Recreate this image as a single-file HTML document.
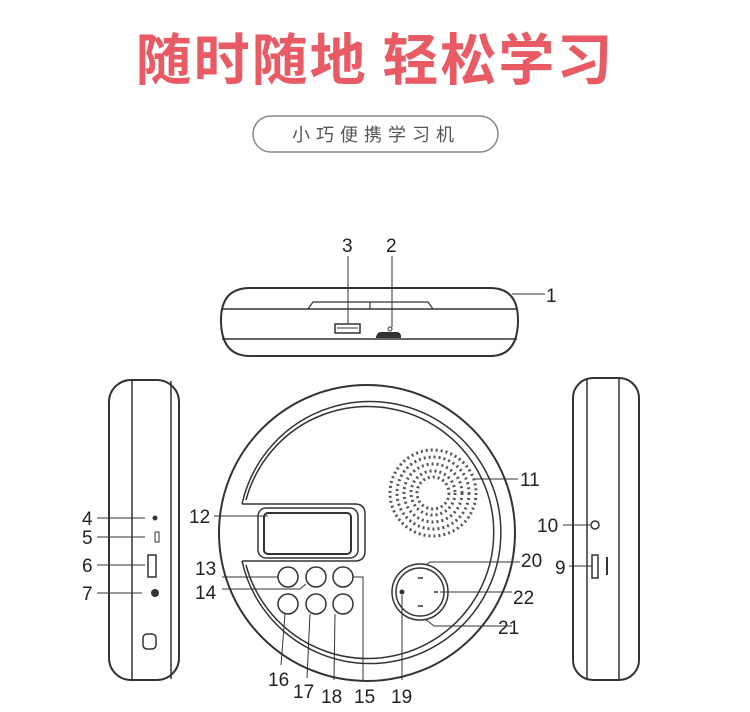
<!DOCTYPE html>
<html><head><meta charset="utf-8"><style>
html,body{margin:0;padding:0;background:#fff;}
svg{display:block}
</style></head><body>
<svg width="750" height="712" viewBox="0 0 750 712" xmlns="http://www.w3.org/2000/svg">
<rect width="750" height="712" fill="#fff"/>
<text x="375" y="80" text-anchor="middle" font-family="'Noto Sans CJK SC',sans-serif" font-weight="bold" font-size="56" fill="#e85a64" letter-spacing="2">随时随地 轻松学习</text>
<rect x="253" y="116" width="245" height="36" rx="18" fill="none" stroke="#888" stroke-width="1.5"/>
<text x="376" y="141" text-anchor="middle" font-family="'Noto Sans CJK SC',sans-serif" font-size="18" fill="#555" letter-spacing="6">小巧便携学习机</text>

<g fill="none" stroke="#333" stroke-width="2" font-family="'Liberation Sans',sans-serif">
<!-- top view -->
<path d="M250 288 H490 Q518 288 518 320 Q518 356 490 356 H250 Q221 356 221 320 Q221 288 250 288 Z"/>
<line x1="222" y1="309" x2="517" y2="309" stroke-width="1.5"/>
<line x1="222" y1="339" x2="517" y2="339" stroke-width="1.5"/>
<path d="M308 309 L313 302 H428 L433 309 M370 302 V309" stroke-width="1.2"/>
<rect x="335" y="324" width="25" height="9" stroke-width="1.5"/>
<line x1="337" y1="328" x2="358" y2="328" stroke-width="1"/>
<path d="M377 337 Q378 333 381 333 H397 Q400 333 400 337 Z" fill="#333"/>
<circle cx="390" cy="329" r="2" stroke-width="1"/>
<line x1="348" y1="256" x2="348" y2="324" stroke-width="1"/>
<line x1="392" y1="256" x2="392" y2="327" stroke-width="1"/>
<line x1="512" y1="294" x2="545" y2="294" stroke-width="1"/>

<!-- left side -->
<rect x="109" y="380" width="70" height="300" rx="22"/>
<line x1="132" y1="381" x2="132" y2="679" stroke-width="1.5"/>
<line x1="171" y1="381" x2="171" y2="679" stroke-width="1.5"/>
<rect x="143" y="634" width="13" height="15" rx="4" stroke-width="1.5"/>
<line x1="97" y1="518" x2="145" y2="518" stroke-width="1"/>
<line x1="97" y1="537" x2="145" y2="537" stroke-width="1"/>
<line x1="97" y1="565" x2="145" y2="565" stroke-width="1"/>
<line x1="97" y1="593" x2="142" y2="593" stroke-width="1"/>
<rect x="155" y="532" width="4" height="10" stroke-width="1"/>
<rect x="148" y="555" width="8" height="22" stroke-width="1.5"/>
<circle cx="155" cy="593" r="3" fill="#333"/>
<circle cx="155" cy="518" r="1.5" fill="#333"/>

<!-- right side -->
<rect x="573" y="378" width="66" height="302" rx="20"/>
<line x1="587" y1="379" x2="587" y2="679" stroke-width="1.5"/>
<line x1="619" y1="379" x2="619" y2="679" stroke-width="1.5"/>
<circle cx="595" cy="525" r="4" stroke-width="1.5"/>
<rect x="592" y="555" width="6" height="23" stroke-width="1.5"/>
<line x1="607" y1="557" x2="607" y2="575" stroke-width="2"/>
<line x1="563" y1="525" x2="590" y2="525" stroke-width="1"/>
<line x1="569" y1="566" x2="592" y2="566" stroke-width="1"/>

<!-- main circle -->
<circle cx="367" cy="533" r="148"/>
<path d="M242 504 A131 131 0 1 1 242 561" stroke-width="1.5"/>
<path d="M246 500 A126 126 0 1 1 246 565" stroke-width="1.5"/>
<path d="M242 504 H355 Q365 504 365 514 V551 Q365 561 355 561 H242" stroke-width="1.5"/>
<rect x="258" y="508" width="100" height="50" rx="8" stroke-width="1.5"/>
<rect x="264" y="513" width="87" height="41" rx="4" stroke-width="2"/>
<line x1="214" y1="516" x2="268" y2="516" stroke-width="1"/>

<!-- speaker -->
<circle cx="433" cy="493" r="43" stroke="#555" stroke-width="3" stroke-dasharray="2 3"/>
<circle cx="433" cy="493" r="36" stroke="#555" stroke-width="3" stroke-dasharray="2 3"/>
<circle cx="433" cy="493" r="29" stroke="#555" stroke-width="3" stroke-dasharray="2 3"/>
<circle cx="433" cy="493" r="22" stroke="#555" stroke-width="3" stroke-dasharray="2 3"/>
<circle cx="433" cy="493" r="16" stroke="#555" stroke-width="3" stroke-dasharray="2 3"/>
<line x1="475" y1="479" x2="518" y2="479" stroke-width="1"/>

<!-- buttons -->
<circle cx="288" cy="577" r="10" stroke-width="1.5"/>
<circle cx="316" cy="577" r="10" stroke-width="1.5"/>
<circle cx="343" cy="577" r="10" stroke-width="1.5"/>
<circle cx="288" cy="604" r="10" stroke-width="1.5"/>
<circle cx="316" cy="604" r="10" stroke-width="1.5"/>
<circle cx="343" cy="604" r="10" stroke-width="1.5"/>
<line x1="222" y1="577" x2="278" y2="577" stroke-width="1"/>
<polyline points="222,589 300,589 306,584" stroke-width="1"/>
<polyline points="353,577 363,577 363,680" stroke-width="1"/>
<line x1="285" y1="614" x2="281" y2="665" stroke-width="1"/>
<line x1="310" y1="614" x2="307" y2="678" stroke-width="1"/>
<line x1="335" y1="614" x2="334" y2="680" stroke-width="1"/>

<!-- dial -->
<circle cx="420" cy="592" r="28" stroke-width="1.5"/>
<circle cx="420" cy="592" r="24" stroke-width="1.5"/>
<circle cx="402" cy="592" r="1.5" fill="#333"/>
<line x1="418" y1="578" x2="423" y2="578" stroke-width="1.5"/>
<line x1="418" y1="606" x2="423" y2="606" stroke-width="1.5"/>
<line x1="434" y1="592" x2="438" y2="592" stroke-width="1.5"/>
<polyline points="426,565 430,562 520,562" stroke-width="1"/>
<line x1="440" y1="592" x2="512" y2="592" stroke-width="1"/>
<polyline points="425,619 434,626 512,626" stroke-width="1"/>
<line x1="402" y1="595" x2="402" y2="680" stroke-width="1"/>
</g>

<g font-family="'Liberation Sans',sans-serif" font-size="19" fill="#222">
<text x="342" y="252">3</text><text x="386" y="252">2</text><text x="546" y="302">1</text>
<text x="82" y="525">4</text><text x="82" y="544">5</text><text x="82" y="572">6</text><text x="82" y="600">7</text>
<text x="537" y="532">10</text><text x="555" y="574">9</text>
<text x="520" y="486">11</text><text x="189" y="523">12</text>
<text x="195" y="575">13</text><text x="195" y="599">14</text>
<text x="521" y="567">20</text><text x="513" y="604">22</text><text x="498" y="634">21</text>
<text x="268" y="686">16</text><text x="293" y="698">17</text><text x="321" y="703">18</text><text x="354" y="703">15</text><text x="391" y="703">19</text>
</g>
</svg>
</body></html>
